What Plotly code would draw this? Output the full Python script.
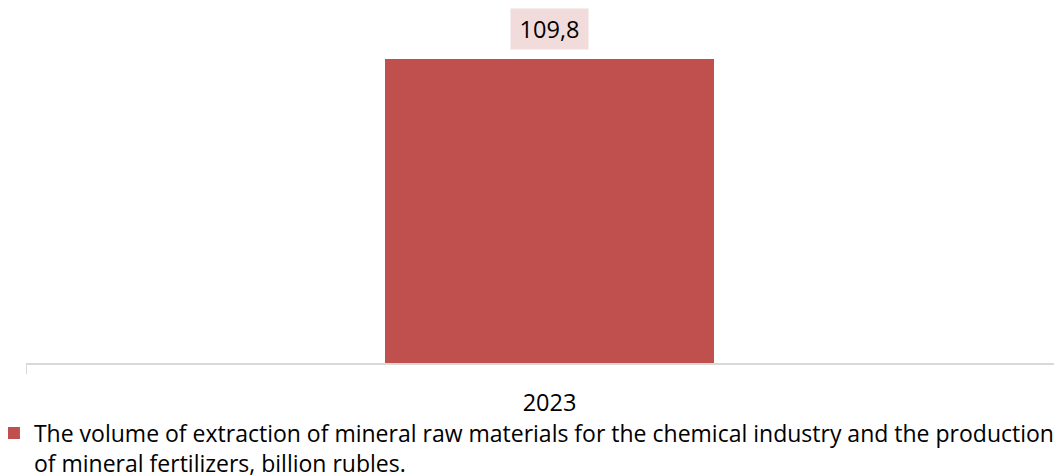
import plotly.graph_objects as go

categories = ["2023"]
values = [109.8]
labels = ["109,8"]
series_name = "The volume of extraction of mineral raw materials for the chemical industry and the production<br>of mineral fertilizers, billion rubles."

FONT = "Open Sans"
FS = 23.5
fig = go.Figure()
fig.add_trace(go.Bar(
    x=categories, y=values, name=series_name,
    marker=dict(color="#C0504D", line=dict(width=0)),
    width=0.314, showlegend=True,
))
for i, (v, t) in enumerate(zip(values, labels)):
    fig.add_annotation(x=i, y=v, xref="x", yref="y", text=t, showarrow=False,
                       yanchor="bottom", yshift=9,
                       bgcolor="#F2DCDB", borderpad=0, width=77, height=40,
                       font=dict(family=FONT, size=FS, color="#000000"))

fig.update_layout(
    width=1062, height=476,
    margin=dict(l=18, r=0, t=0, b=121, autoexpand=False),
    paper_bgcolor="white", plot_bgcolor="white",
    font=dict(family=FONT, size=FS, color="#000000"),
    bargap=0,
    xaxis=dict(type="category", range=[-0.5, 0.4971], showline=True, linecolor="#D9D9D9", linewidth=1.5,
               ticks="outside", tickson="boundaries", ticklen=9, tickcolor="#D9D9D9",
               ticklabelstandoff=18,
               tickfont=dict(family=FONT, size=FS, color="#000000"), showgrid=False),
    yaxis=dict(range=[0, 128.2], visible=False, showgrid=False),
    legend=dict(orientation="h", x=-0.0307, xanchor="left", y=-0.137, yanchor="top",
                valign="top",
                font=dict(family=FONT, size=23, color="#000000"), itemwidth=30,
                bgcolor="rgba(0,0,0,0)"),
)
fig.write_html("out.html")
